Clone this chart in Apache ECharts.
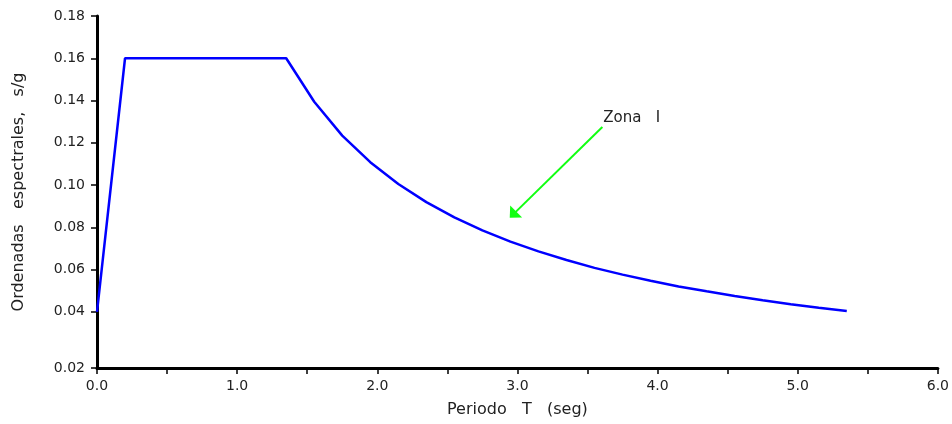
<!DOCTYPE html>
<html>
<head>
<meta charset="utf-8">
<script src="https://cdn.jsdelivr.net/npm/echarts@6/dist/echarts.min.js"></script>
<style>html,body{margin:0;padding:0;background:#fff;}#c{width:952px;height:424px;}</style>
</head>
<body>
<div id="c"></div>
<script>
var periods = [0, 0.2, 1.35, 1.55, 1.75, 1.95, 2.15, 2.35, 2.55, 2.75, 2.95, 3.15, 3.35, 3.55, 3.75, 3.95, 4.15, 4.35, 4.55, 4.75, 4.95, 5.15, 5.35];
var ordenadas = [0.040, 0.160, 0.160, 0.1394, 0.1234, 0.1108, 0.1005, 0.0919, 0.0847, 0.0785, 0.0732, 0.0686, 0.0645, 0.0608, 0.0576, 0.0547, 0.0520, 0.0497, 0.0475, 0.0455, 0.0436, 0.0419, 0.0404];
var yTickValues = [0.0134, 0.04, 0.06, 0.08, 0.10, 0.12, 0.14, 0.16, 0.18];
var yTickLabels = ["0.02", "0.04", "0.06", "0.08", "0.10", "0.12", "0.14", "0.16", "0.18"];
var xTickLabels = ["0.0", "1.0", "2.0", "3.0", "4.0", "5.0", "6.0"];
var arrowFrom = [3.606, 0.1275];
var arrowTo = [2.968, 0.0860];
var zonaLabel = "Zona   I";
var zonaPos = [3.612, 0.1316];

var font = "DejaVu Sans";
var chart = echarts.init(document.getElementById('c'), null, {renderer: 'canvas'});
var seriesData = periods.map(function (p, i) { return [p, ordenadas[i]]; });

chart.setOption({
  animation: false,
  backgroundColor: '#ffffff',
  grid: {left: 97, right: 13, top: 16, bottom: 56, containLabel: false},
  xAxis: {
    type: 'value', min: 0, max: 6, interval: 0.5,
    name: 'Periodo   T   (seg)', nameLocation: 'middle', nameGap: 34,
    nameTextStyle: {fontFamily: font, fontSize: 16, color: '#222'},
    axisLine: {show: true, onZero: false, lineStyle: {color: '#000', width: 3}},
    axisTick: {show: true, inside: false, length: 6, lineStyle: {color: '#000', width: 1.5}},
    axisLabel: {
      show: true, margin: 11, fontFamily: font, fontSize: 14, color: '#222',
      formatter: function (v) {
        var r = Math.round(v);
        if (Math.abs(v - r) < 1e-6) return xTickLabels[r];
        return '';
      }
    },
    splitLine: {show: false}
  },
  yAxis: {
    type: 'value', min: yTickValues[0], max: 0.18,
    name: 'Ordenadas   espectrales,   s/g', nameLocation: 'middle', nameGap: 70, nameRotate: 90,
    nameTextStyle: {fontFamily: font, fontSize: 16, color: '#222'},
    axisLine: {show: true, onZero: false, lineStyle: {color: '#000', width: 3}},
    axisTick: {show: true, length: 6, customValues: yTickValues, lineStyle: {color: '#000', width: 1.5}},
    axisLabel: {
      show: true, margin: 12, fontFamily: font, fontSize: 14, color: '#222',
      customValues: yTickValues,
      formatter: function (v) {
        for (var i = 0; i < yTickValues.length; i++) {
          if (Math.abs(v - yTickValues[i]) < 1e-6) return yTickLabels[i];
        }
        return '';
      }
    },
    splitLine: {show: false}
  },
  series: [{
    type: 'line',
    data: seriesData,
    showSymbol: false,
    symbol: 'none',
    lineStyle: {color: '#0000ff', width: 2.5},
    clip: false,
    markLine: {
      silent: true,
      symbol: ['none', 'path://M0,0L10,10L-10,10Z'],
      symbolSize: [17, 9],
      lineStyle: {color: '#11ff11', width: 2, type: 'solid'},
      itemStyle: {color: '#11ff11'},
      label: {show: false},
      data: [[{coord: arrowFrom}, {coord: arrowTo}]]
    },
    markPoint: {
      silent: true,
      symbol: 'circle', symbolSize: 0,
      label: {show: true, position: 'right', distance: 0, formatter: zonaLabel,
              fontFamily: font, fontSize: 15, color: '#222'},
      data: [{coord: zonaPos}]
    }
  }]
});
</script>
</body>
</html>
